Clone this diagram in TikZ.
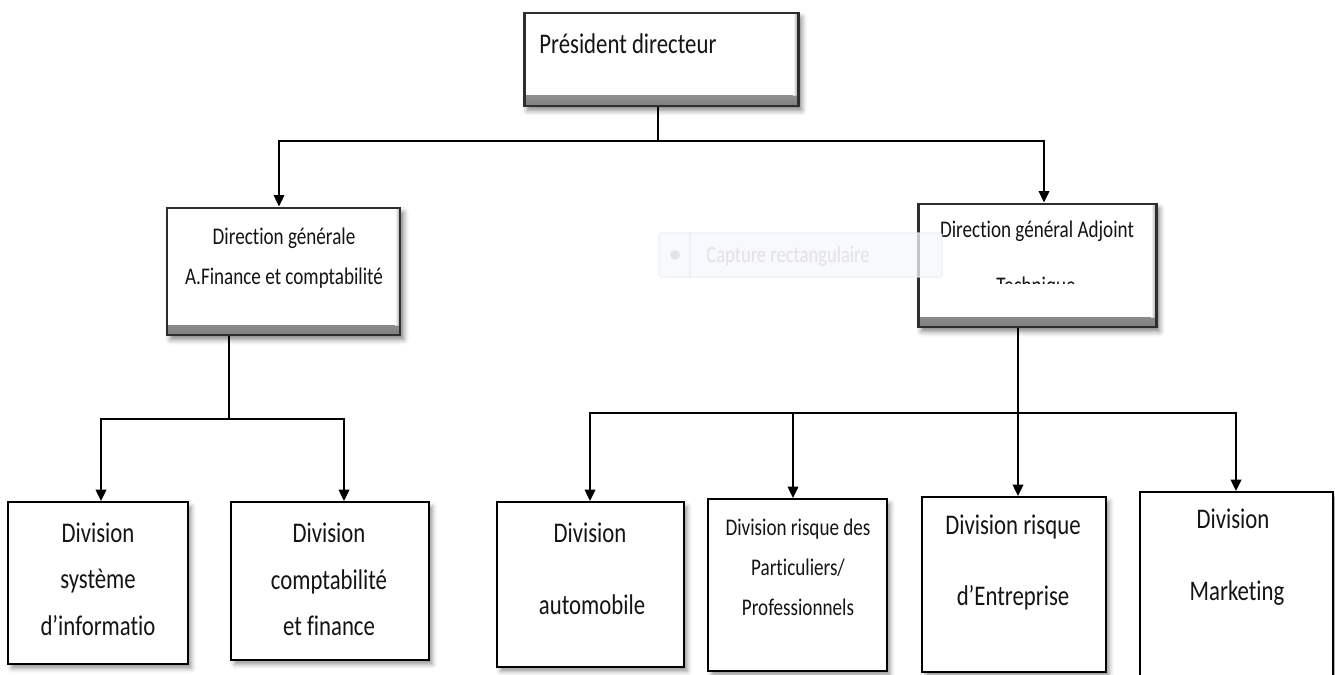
\documentclass[tikz,border=0pt]{standalone}
\usepackage{fontspec}
\setmainfont{Carlito}[FakeStretch=0.8, Ligatures=NoCommon]
\usetikzlibrary{arrows.meta,fit,shadows.blur}

\definecolor{edge}{HTML}{2E2E2E}
\definecolor{ink}{HTML}{141414}
\definecolor{ghostfill}{HTML}{F6F7FC}
\definecolor{ghostline}{HTML}{E9ECF6}

\newcommand\topfont{\fontsize{16.2}{19}\selectfont}
\newcommand\midfont{\fontsize{13.6}{16}\selectfont}
\newcommand\lowfont{\fontsize{16.2}{19}\selectfont}
\newcommand\smallfont{\fontsize{13.6}{16}\selectfont}
\newcommand\capfont{\fontsize{13.2}{15}\selectfont}

\tikzset{
  upbox/.style={draw=edge, line width=1.7pt, fill=white, inner sep=0pt,
    blur shadow={shadow xshift=2pt, shadow yshift=-2.5pt,
                 shadow blur radius=3pt, shadow opacity=50},
    path picture={
      \shade[top color=white, bottom color=black!50]
        ([yshift=0.2cm]path picture bounding box.south west)
        rectangle (path picture bounding box.south east);
      \shade[left color=white, right color=black!45, opacity=.8]
        ([xshift=-0.1cm, yshift=0.2cm]path picture bounding box.south east)
        rectangle (path picture bounding box.north east);
    }},
  lowbox/.style={draw=black, line width=1.1pt, fill=white, inner sep=0pt,
    blur shadow={shadow xshift=2pt, shadow yshift=-2.5pt,
                 shadow blur radius=2.5pt, shadow opacity=40}},
  txt/.style={anchor=base, text=ink, inner sep=0pt},
  link/.style={draw=black, line width=1.1pt},
  arr/.style={link, -{Triangle[length=6.5pt, width=6pt]}},
}

\begin{document}
\begin{tikzpicture}[x=0.02cm, y=-0.02cm]
\useasboundingbox (0,0) rectangle (1335,675);

% ---- top level
\node[upbox, fit={(524,13) (798,106)}] (pdg) {};
\node[txt, anchor=base west, font=\topfont] (pdgt) at (539,54) {Président directeur};

% ---- second level
\node[upbox, fit={(167,208) (400,335)}] (dga) {};
\node[txt, font=\midfont] (dga1) at (284,245) {Direction générale};
\node[txt, font=\midfont] (dga2) at (284,285) {A.Finance et comptabilité};

\node[upbox, fit={(918,204) (1156,327)}] (dgt) {};
\node[txt, font=\midfont] (dgt1) at (1037,238) {Direction général Adjoint};
\begin{scope}
  \clip (985,268) rectangle (1090,283.5);
  \node[txt, font=\midfont] (dgt2) at (1036,294) {Technique};
\end{scope}

% ---- third level
\node[lowbox, fit={(8,502) (188,664)}] (b1) {};
\node[txt, font=\lowfont] (b1a) at (98,542) {Division};
\node[txt, font=\lowfont] (b1b) at (98,588) {système};
\node[txt, font=\lowfont] (b1c) at (98,635) {d’informatio};

\node[lowbox, fit={(231,502) (429,660)}] (b2) {};
\node[txt, font=\lowfont] (b2a) at (329,542) {Division};
\node[txt, font=\lowfont] (b2b) at (329,589) {comptabilité};
\node[txt, font=\lowfont] (b2c) at (329,635) {et finance};

\node[lowbox, fit={(497,502) (684,667)}] (b3) {};
\node[txt, font=\lowfont] (b3a) at (590,542) {Division};
\node[txt, font=\lowfont] (b3b) at (592,614) {automobile};

\node[lowbox, fit={(708,499) (887,671)}] (b4) {};
\node[txt, font=\smallfont] (b4a) at (798,535) {Division risque des};
\node[txt, font=\smallfont] (b4b) at (798,575) {Particuliers/};
\node[txt, font=\smallfont] (b4c) at (798,615) {Professionnels};

\node[lowbox, fit={(922,497) (1106,672)}] (b5) {};
\node[txt, font=\lowfont] (b5a) at (1013,534) {Division risque};
\node[txt, font=\lowfont] (b5b) at (1013,605) {d’Entreprise};

\node[lowbox, fit={(1140,492) (1333,690)}] (b6) {};
\node[txt, font=\lowfont] (b6a) at (1233,528) {Division};
\node[txt, font=\lowfont] (b6b) at (1237,600) {Marketing};

% ---- connectors: top level
\coordinate (j0) at (658,141);
\coordinate (h0l) at (279,141);
\coordinate (h0r) at (1044,141);
\draw[link] (j0 |- pdg.south) -- (j0);
\draw[arr] (j0) -- (h0l) -- (h0l |- dga.north);
\draw[arr] (j0) -- (h0r) -- (h0r |- dgt.north);

% ---- connectors: finance branch
\coordinate (j1) at (229,419);
\coordinate (h1l) at (101,419);
\coordinate (h1r) at (344,419);
\draw[link] (j1 |- dga.south) -- (j1);
\draw[arr] (j1) -- (h1l) -- (h1l |- b1.north);
\draw[arr] (j1) -- (h1r) -- (h1r |- b2.north);

% ---- connectors: technical branch
\coordinate (j2) at (1018,413);
\coordinate (h2a) at (590,413);
\coordinate (h2b) at (793,413);
\coordinate (h2d) at (1236,413);
\draw[arr] (j2 |- dgt.south) -- (j2 |- b5.north);
\draw[arr] (j2) -- (h2a) -- (h2a |- b3.north);
\draw[arr] (h2b) -- (h2b |- b4.north);
\draw[arr] (j2) -- (h2d) -- (h2d |- b6.north);

% ---- faint screen-capture toolbar
\begin{scope}[opacity=.75]
  \node[fit={(659,233) (942,277)}, inner sep=0pt, fill=ghostfill,
        draw=ghostline, line width=.6pt, rounded corners=1pt] (cap) {};
  \node[circle, fill=black!13, inner sep=0pt, minimum size=0.2cm] (capdot) at (675,255) {};
  \draw[ghostline, line width=.6pt] (cap.north -| 690,0) -- (cap.south -| 690,0);
  \node[anchor=base west, inner sep=0pt, text=black!14, font=\capfont]
    (captxt) at (706,263) {Capture rectangulaire};
\end{scope}
\end{tikzpicture}
\end{document}
